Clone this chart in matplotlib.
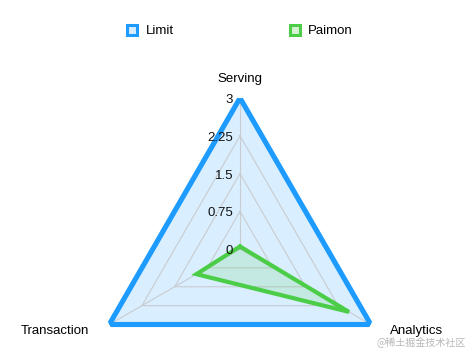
import numpy as np
import matplotlib
matplotlib.use("Agg")
import matplotlib.pyplot as plt
from matplotlib.lines import Line2D

# -----------------------------
# Data
# -----------------------------
indicators = ["Serving", "Analytics", "Transaction"]
max_value = 3
tick_values = [0, 0.75, 1.5, 2.25, 3]
tick_labels = ["0", "0.75", "1.5", "2.25", "3"]

limit_values = [3, 3, 3]
paimon_values = [0.05, 2.5, 1.0]

blue = "#1E9BFF"
green = "#4CCD48"

plt.rcParams["font.family"] = ["Liberation Sans", "DejaVu Sans"]

fig = plt.figure(figsize=(4.7, 3.49), dpi=100)

# polar axes placed so that the radar centre sits at the right spot
cx, cy, rad = 240 / 470, (349 - 249) / 349, 151
w, h = 2 * rad / 470, 2 * rad / 349
ax = fig.add_axes([cx - w / 2, cy - h / 2, w, h], projection="polar")
ax.set_theta_offset(np.pi / 2)
ax.set_theta_direction(-1)
ax.set_ylim(0, max_value)
ax.grid(False)
ax.set_xticks([])
ax.set_yticks([])
ax.spines["polar"].set_visible(False)
ax.patch.set_alpha(0)

angles = np.linspace(0, 2 * np.pi, len(indicators), endpoint=False)
closed = np.append(angles, angles[0])

# grid rings and spokes
for t in tick_values[1:]:
    ax.plot(closed, [t] * len(closed), color="#c8ccd0", lw=0.8, zorder=1)
for a in angles:
    ax.plot([a, a], [0, max_value], color="#c8ccd0", lw=0.8, zorder=1)

# series
lim = np.append(limit_values, limit_values[0])
pai = np.append(paimon_values, paimon_values[0])
ax.fill(closed, lim, color=blue, alpha=0.17, lw=0, zorder=0)
ax.plot(closed, lim, color=blue, lw=3.7, zorder=3, solid_joinstyle="miter")
ax.fill(closed, pai, color=green, alpha=0.15, lw=0, zorder=2)
ax.plot(closed, pai, color=green, lw=3.0, zorder=4, solid_joinstyle="miter")

# axis tick labels along the Serving axis
for t, lab in zip(tick_values, tick_labels):
    ax.annotate(lab, xy=(0, t), xytext=(-5, -1.5), textcoords="offset points",
                ha="right", va="center", fontsize=9.5, color="#111111", zorder=5)

# indicator names
ax.annotate(indicators[0], xy=(angles[0], max_value), xytext=(0, 14),
            textcoords="offset points", ha="center", va="center", fontsize=9.5)
ax.annotate(indicators[1], xy=(angles[1], max_value), xytext=(33, -5),
            textcoords="offset points", ha="center", va="center", fontsize=9.5)
ax.annotate(indicators[2], xy=(angles[2], max_value), xytext=(-39, -5),
            textcoords="offset points", ha="center", va="center", fontsize=9.5)

# legend
handles = [
    Line2D([], [], ls="none", marker="s", markersize=7.5, markeredgewidth=2.2,
           markeredgecolor=blue, markerfacecolor="#d6ecff"),
    Line2D([], [], ls="none", marker="s", markersize=7.5, markeredgewidth=2.2,
           markeredgecolor=green, markerfacecolor="#d6f2d4"),
]
fig.legend(handles, ["Limit", "Paimon"], loc="center", ncol=2,
           bbox_to_anchor=(0.509, 0.911), frameon=False, fontsize=9.5,
           handlelength=1.0, handletextpad=0.5, columnspacing=8.7)

# watermark
fig.text(0.992, 0.004, "@稀土掘金技术社区", ha="right", va="bottom",
         fontsize=7.2, color="#b8b8b8",
         family=["Noto Sans CJK SC", "DejaVu Sans"])

fig.savefig("out.png", dpi=100)
